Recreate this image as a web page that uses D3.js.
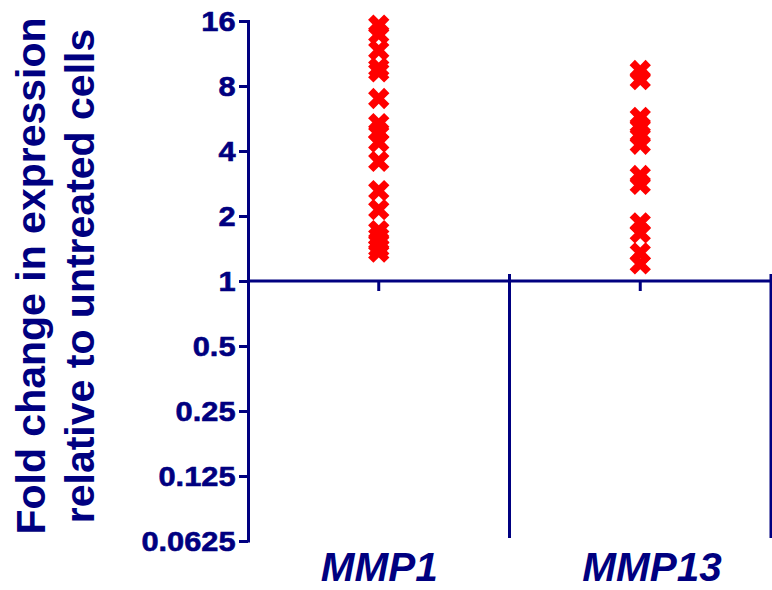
<!DOCTYPE html>
<html>
<head>
<meta charset="utf-8">
<script src="https://cdn.jsdelivr.net/npm/d3@7"></script>
<style>
  html, body { margin: 0; padding: 0; background: #fff; }
  svg { display: block; }
  text { font-family: "Liberation Sans", Arial, sans-serif; font-weight: bold; fill: #000080; }
</style>
</head>
<body>
<svg id="chart" width="772" height="590"></svg>
<script>
// Genes on the x axis
const genes = ["MMP1", "MMP13"];

// Fold change of each sample relative to untreated cells
const mmp1Values = [15.3, 13.9, 11.7, 9.7, 9.3, 7.0, 5.36, 4.9, 4.4, 3.58,
                    2.62, 2.14, 1.71, 1.6, 1.5, 1.42, 1.36];
const mmp13Values = [9.44, 8.57, 5.72, 5.2, 4.74, 4.3, 3.08, 2.8,
                     1.86, 1.67, 1.35, 1.2];

// Log2 axis ticks and their labels
const yTicks = [0.0625, 0.125, 0.25, 0.5, 1, 2, 4, 8, 16];
const yTickLabels = ["0.0625", "0.125", "0.25", "0.5", "1", "2", "4", "8", "16"];

const yTitleLines = ["Fold change in expression", "relative to untreated cells"];

const seriesByGene = [mmp1Values, mmp13Values];

const navy = "#000080";
const svg = d3.select("#chart");

const y = d3.scaleLog().base(2).domain([0.0625, 16]).range([541, 21]);
const x = d3.scaleBand().domain(genes).range([248, 771]).paddingInner(0).paddingOuter(0);
const axisX = 248;
const baseY = y(1);

// Y axis
const yAxis = d3.axisLeft(y)
  .tickValues(yTicks)
  .tickFormat((d, i) => yTickLabels[i])
  .tickSize(9)
  .tickSizeOuter(0)
  .tickPadding(12);

const gy = svg.append("g").attr("transform", `translate(${axisX},0)`).call(yAxis);
gy.select(".domain").attr("stroke", navy).attr("stroke-width", 3)
  .attr("d", `M0.5,${y(16) - 1}V${y(0.0625) + 1.5}`);
gy.selectAll(".tick line").attr("stroke", navy).attr("stroke-width", 3);
gy.selectAll(".tick text")
  .attr("fill", navy)
  .attr("stroke", navy)
  .attr("stroke-width", 0.6)
  .attr("font-size", 28.5)
  .attr("font-weight", "bold")
  .attr("font-family", "'Liberation Sans', Arial, sans-serif")
  .attr("x", -12.5 / 1.08)
  .attr("transform", "scale(1.08,1)");

// Horizontal axis at a fold change of 1
svg.append("line")
  .attr("x1", axisX).attr("x2", x.range()[1])
  .attr("y1", baseY).attr("y2", baseY)
  .attr("stroke", navy).attr("stroke-width", 3);

// Category ticks below the baseline
svg.selectAll(".cat-tick")
  .data(genes)
  .join("line")
  .attr("class", "cat-tick")
  .attr("x1", d => x(d) + x.bandwidth() / 2)
  .attr("x2", d => x(d) + x.bandwidth() / 2)
  .attr("y1", baseY)
  .attr("y2", baseY + 10)
  .attr("stroke", navy).attr("stroke-width", 3);

// Group separators
svg.selectAll(".sep")
  .data(genes)
  .join("line")
  .attr("class", "sep")
  .attr("x1", d => x(d) + x.bandwidth())
  .attr("x2", d => x(d) + x.bandwidth())
  .attr("y1", baseY - 7)
  .attr("y2", y(0.0625) - 3)
  .attr("stroke", navy).attr("stroke-width", 3);

// Category labels
svg.selectAll(".cat-label")
  .data(genes)
  .join("text")
  .attr("class", "cat-label")
  .attr("x", d => x(d) + x.bandwidth() / 2 - 58)
  .attr("y", 581)
  .attr("text-anchor", "start")
  .attr("font-size", 40.5)
  .attr("font-style", "italic")
  .text(d => d);

// Y axis title
svg.selectAll(".y-title")
  .data(yTitleLines)
  .join("text")
  .attr("class", "y-title")
  .attr("transform", (d, i) => `translate(${45 + i * 49},${276}) rotate(-90)`)
  .attr("text-anchor", "middle")
  .attr("font-size", 41)
  .text(d => d);

// Data points: thick X markers
const cross = d3.symbol().type(d3.symbolCross).size(285);
const points = genes.flatMap((g, i) => seriesByGene[i].map(v => ({ gene: g, value: v })));

svg.append("g")
  .selectAll("path")
  .data(points)
  .join("path")
  .attr("d", cross)
  .attr("transform", d => `translate(${x(d.gene) + x.bandwidth() / 2},${y(d.value)}) rotate(45)`)
  .attr("fill", "#ff0000");
</script>
</body>
</html>
